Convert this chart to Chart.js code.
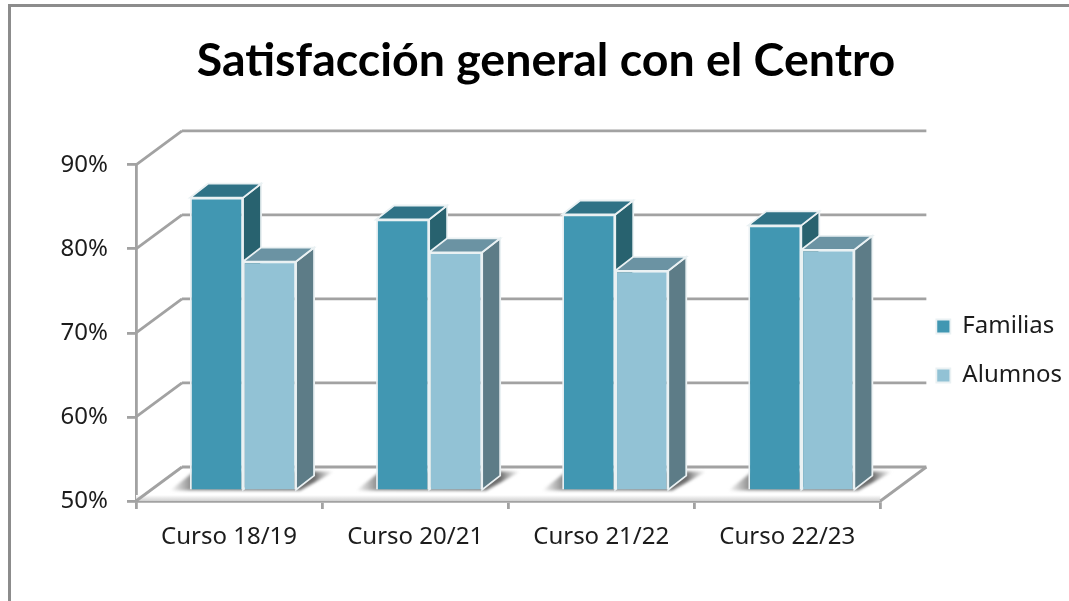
<!DOCTYPE html>
<html>
<head>
<meta charset="utf-8">
<title>Satisfacción general con el Centro</title>
<script src="https://cdn.jsdelivr.net/npm/chart.js@4"></script>
<style>
  html, body { margin: 0; padding: 0; background: #fff; }
  #frame { position: absolute; left: 8px; top: 4px; width: 1061px; height: 597px; box-sizing: border-box;
           border-left: 3px solid #8c8c8c; border-top: 3px solid #8c8c8c; }
  #chart { position: absolute; left: 0; top: 0; }
</style>
</head>
<body>
<div id="frame"></div>
<canvas id="chart" width="1069" height="601"></canvas>
<script>
const categories = ['Curso 18/19', 'Curso 20/21', 'Curso 21/22', 'Curso 22/23'];
const familias = [84.9, 82.3, 82.9, 81.6];
const alumnos = [77.3, 78.4, 76.2, 78.7];
const axisMin = 50, axisMax = 90;

const titleFont = 'Lato, sans-serif';
const labelFont = '"Noto Sans", sans-serif';
const gridColor = '#a2a2a2';
const edgeColor = '#eaf1f3';

// 3D look: the scales are the front plane of the box
const wallDx = 46, wallDy = 34;   // front plane -> back wall
const barDx = 14, barDy = 10;     // front plane -> bar front
const depthDx = 18, depthDy = 14; // bar front -> bar back

const faces = [
  { side: '#28626f', top: '#2f7286' },
  { side: '#5d7c87', top: '#6b93a3' }
];

function line(ctx, x1, y1, x2, y2) {
  ctx.beginPath();
  ctx.moveTo(x1, y1);
  ctx.lineTo(x2, y2);
  ctx.stroke();
}

function poly(ctx, pts, fill, stroke) {
  ctx.beginPath();
  pts.forEach((p, i) => i ? ctx.lineTo(p[0], p[1]) : ctx.moveTo(p[0], p[1]));
  ctx.closePath();
  ctx.fillStyle = fill;
  ctx.fill();
  if (stroke) {
    ctx.strokeStyle = stroke;
    ctx.lineWidth = 1.8;
    ctx.stroke();
  }
}

const box3d = {
  id: 'box3d',
  // move the legend to where it sits in the original
  afterLayout(chart) {
    const l = chart.legend;
    l.left += 31; l.right += 31;
    l.top += 34; l.bottom += 34;
  },
  beforeDatasetsDraw(chart) {
    const ctx = chart.ctx;
    const area = chart.chartArea;
    const y = chart.scales.y;

    // floor edge and walls
    ctx.save();
    const band = ctx.createLinearGradient(0, area.bottom - 6, 0, area.bottom);
    band.addColorStop(0, '#ffffff');
    band.addColorStop(1, '#d0d0d0');
    ctx.fillStyle = band;
    ctx.fillRect(area.left, area.bottom - 6, area.right - area.left, 6);

    ctx.strokeStyle = gridColor;
    ctx.lineWidth = 2.8;
    y.ticks.forEach(t => {
      const py = y.getPixelForValue(t.value);
      line(ctx, area.left, py, area.left + wallDx, py - wallDy);
      line(ctx, area.left + wallDx, py - wallDy, area.right + wallDx, py - wallDy);
    });
    line(ctx, area.right, area.bottom, area.right + wallDx, area.bottom - wallDy);

    // soft shadows on the floor
    const m0 = chart.getDatasetMeta(0).data, m1 = chart.getDatasetMeta(1).data;
    m0.forEach((bar, i) => {
      const L = bar.x - bar.width / 2 + barDx;
      const R = m1[i].x + m1[i].width / 2 + barDx;
      const b = bar.base - barDy;
      const g = ctx.createLinearGradient(L - 20, 0, R + 38, 0);
      const w = R + 38 - (L - 20);
      g.addColorStop(0, 'rgba(120,120,120,0)');
      g.addColorStop(20 / w, 'rgba(120,120,120,0.8)');
      g.addColorStop((w - 20) / w, 'rgba(100,100,100,0.95)');
      g.addColorStop(1, 'rgba(130,130,130,0)');
      ctx.save();
      ctx.filter = 'blur(1.5px)';
      poly(ctx, [[L - 20, b + 1], [R + 4, b + 1], [R + 38, b - 18], [L + 4, b - 18]], g);
      ctx.restore();
    });
    ctx.restore();

    // bars are drawn in their own plane, inside the box
    ctx.save();
    ctx.translate(barDx, -barDy);
    // side and top faces go first, Familias then Alumnos
    [0, 1].forEach(d => {
      chart.getDatasetMeta(d).data.forEach(bar => {
        const p = bar.getProps(['x', 'y', 'base', 'width'], true);
        const l = p.x - p.width / 2, r = p.x + p.width / 2;
        poly(ctx, [[r, p.y], [r + depthDx, p.y - depthDy], [r + depthDx, p.base - depthDy], [r, p.base]], faces[d].side, edgeColor);
        poly(ctx, [[l, p.y], [l + depthDx, p.y - depthDy], [r + depthDx, p.y - depthDy], [r, p.y]], faces[d].top, edgeColor);
      });
    });
  },
  afterDatasetsDraw(chart) {
    chart.ctx.restore();
  }
};

new Chart(document.getElementById('chart'), {
  type: 'bar',
  data: {
    labels: categories,
    datasets: [
      { label: 'Familias', data: familias, base: axisMin, backgroundColor: '#4197b2', borderColor: edgeColor, borderWidth: 1.8, clip: false, barPercentage: 1, categoryPercentage: 0.57 },
      { label: 'Alumnos', data: alumnos, base: axisMin, backgroundColor: '#92c2d5', borderColor: edgeColor, borderWidth: 1.8, clip: false, barPercentage: 1, categoryPercentage: 0.57 }
    ]
  },
  options: {
    responsive: false,
    animation: false,
    layout: { padding: { left: 51, right: 28, top: 33, bottom: 0 } },
    plugins: {
      title: {
        display: true,
        text: 'Satisfacción general con el Centro',
        color: '#000',
        font: { family: titleFont, size: 46.5, weight: 'bold' },
        padding: { top: 0, bottom: 76 }
      },
      legend: {
        position: 'right',
        labels: {
          color: '#1c1c1c',
          font: { family: labelFont, size: 24 },
          boxWidth: 14, boxHeight: 14,
          padding: 25
        }
      },
      tooltip: { enabled: false }
    },
    scales: {
      x: {
        grid: { drawOnChartArea: false, color: gridColor, lineWidth: 2.8, tickLength: 8 },
        border: { color: gridColor, width: 2.8 },
        ticks: { color: '#1c1c1c', font: { family: labelFont, size: 24 }, padding: 14, maxRotation: 0 },
        afterFit(s) { s.height = 100; }
      },
      y: {
        min: axisMin,
        max: axisMax,
        grid: { drawOnChartArea: false, color: gridColor, lineWidth: 2.8, tickLength: 9 },
        border: { color: gridColor, width: 2.8 },
        ticks: { stepSize: 10, color: '#1c1c1c', font: { family: labelFont, size: 24 }, padding: 19, callback: v => v + '%' },
        afterFit(s) { s.width = 85; }
      }
    }
  },
  plugins: [box3d]
});
</script>
</body>
</html>
